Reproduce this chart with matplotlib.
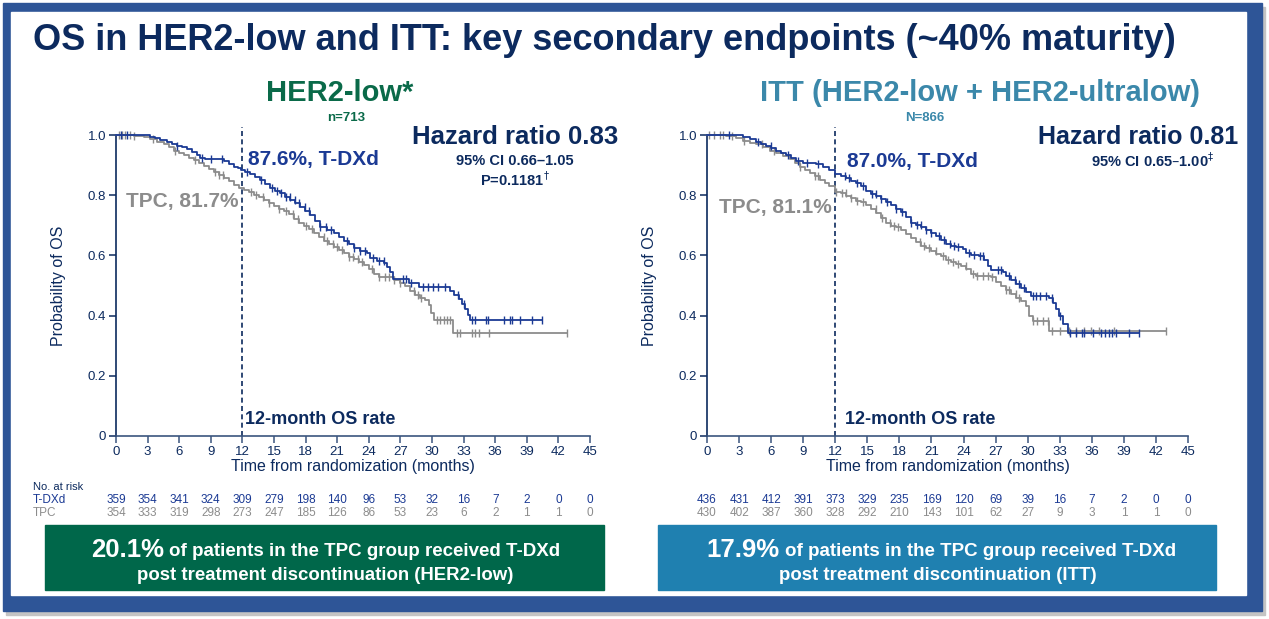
import numpy as np
import matplotlib
matplotlib.use("Agg")
import matplotlib.pyplot as plt
from matplotlib.patches import Rectangle
from matplotlib import transforms

plt.rcParams['font.family'] = ['Liberation Sans', 'DejaVu Sans']

# --- datos ---
months = [0, 3, 6, 9, 12, 15, 18, 21, 24, 27, 30, 33, 36, 39, 42, 45]
yticks = [0, 0.2, 0.4, 0.6, 0.8, 1.0]
ytick_labels = ['0', '0.2', '0.4', '0.6', '0.8', '1.0']

# HER2-low, T-DXd
low_tdxd_t = [0, 3.26, 3.73, 4.21, 4.84, 5.32, 5.79, 6.27, 6.74, 7.22, 7.69, 8.01, 8.48, 10.22, 10.70,
              11.17, 11.55, 11.90, 12.28, 12.75, 13.23, 13.70, 14.18, 14.65, 15.13, 15.60, 16.08,
              16.55, 17.03, 17.50, 17.97, 18.45, 18.92, 19.40, 20.03, 20.66, 21.14, 21.61, 22.09,
              22.56, 23.20, 23.83, 24.15, 24.78, 25.41, 25.73, 26.04, 26.30, 27.78, 28.73, 31.68,
              32.12, 32.53, 32.85, 33.16, 33.42, 33.64, 40.44]
low_tdxd_s = [1.0, 0.994, 0.989, 0.983, 0.977, 0.969, 0.963, 0.959, 0.952, 0.942, 0.932, 0.925, 0.919,
              0.913, 0.905, 0.895, 0.889, 0.884, 0.878, 0.870, 0.861, 0.850, 0.837, 0.825, 0.815,
              0.806, 0.795, 0.784, 0.773, 0.760, 0.748, 0.734, 0.714, 0.695, 0.684, 0.673, 0.662,
              0.649, 0.637, 0.623, 0.616, 0.607, 0.590, 0.583, 0.574, 0.563, 0.546, 0.521, 0.509,
              0.496, 0.483, 0.468, 0.455, 0.439, 0.421, 0.402, 0.385, 0.385]
# HER2-low, TPC
low_tpc_t = [0, 1.68, 2.63, 3.26, 3.89, 4.53, 5.00, 5.47, 5.95, 6.42, 6.90, 7.37, 7.85, 8.32, 8.80,
             9.27, 9.75, 10.22, 10.70, 11.17, 11.65, 12.12, 12.59, 13.07, 13.54, 14.02, 14.49, 14.97,
             15.44, 15.92, 16.39, 16.87, 17.34, 17.82, 18.29, 18.77, 19.24, 19.72, 20.19, 20.66,
             21.14, 21.61, 22.09, 22.56, 23.04, 23.51, 23.99, 24.46, 24.94, 26.36, 26.99, 27.47,
             27.94, 28.42, 28.89, 29.37, 29.68, 29.91, 30.16, 31.96, 42.82]
low_tpc_s = [1.0, 0.997, 0.992, 0.986, 0.978, 0.970, 0.959, 0.948, 0.939, 0.933, 0.925, 0.917, 0.908,
             0.897, 0.886, 0.877, 0.867, 0.858, 0.846, 0.835, 0.824, 0.817, 0.810, 0.802, 0.794,
             0.785, 0.774, 0.765, 0.755, 0.748, 0.737, 0.722, 0.709, 0.698, 0.689, 0.673, 0.660,
             0.649, 0.638, 0.629, 0.618, 0.607, 0.596, 0.587, 0.579, 0.568, 0.554, 0.538, 0.529,
             0.518, 0.509, 0.498, 0.483, 0.468, 0.457, 0.452, 0.435, 0.408, 0.385, 0.341, 0.341]
low_tdxd_cens = [0.5, 1.0, 5.8, 8.2, 9.0, 10.1, 12.4, 13.8, 14.8, 15.3, 15.7, 16.1, 16.5, 17.0, 17.4,
                 17.9, 18.3, 19.4, 19.9, 20.4, 21.9, 22.6, 23.2, 23.6, 24.4, 25.0, 25.4, 27.2, 27.5,
                 28.0, 29.1, 29.6, 30.1, 30.6, 31.2, 32.5, 33.0, 33.8, 34.1, 35.1, 35.3, 36.8, 37.4,
                 37.6, 38.4, 39.5, 40.4]
low_tpc_cens = [0.3, 0.6, 0.9, 1.3, 1.7, 3.5, 5.6, 7.5, 9.4, 9.8, 10.2, 12.8, 13.3, 14.0, 14.5, 15.5,
                16.1, 16.8, 17.3, 18.0, 18.6, 19.7, 20.0, 20.6, 21.0, 21.5, 22.1, 22.5, 23.0, 23.4,
                24.3, 25.0, 25.5, 25.9, 26.4, 27.0, 28.3, 28.7, 29.0, 30.5, 30.8, 31.1, 31.4, 31.7,
                32.4, 32.7, 33.8, 34.1, 34.5, 35.4, 42.8]
low_risk_tdxd = [359, 354, 341, 324, 309, 279, 198, 140, 96, 53, 32, 16, 7, 2, 0, 0]
low_risk_tpc = [354, 333, 319, 298, 273, 247, 185, 126, 86, 53, 23, 6, 2, 1, 1, 0]

# ITT, T-DXd
itt_tdxd_t = [0, 3.36, 3.99, 4.61, 5.08, 5.55, 6.01, 6.48, 6.95, 7.41, 7.88, 8.35, 8.97, 10.22, 10.84,
              11.46, 11.99, 12.55, 13.02, 13.49, 13.96, 14.42, 14.89, 15.36, 15.83, 16.29, 16.76,
              17.23, 17.69, 18.16, 18.63, 19.10, 19.56, 20.03, 20.50, 20.97, 21.43, 21.90, 22.37,
              22.83, 23.30, 23.93, 24.24, 24.70, 25.48, 25.95, 26.26, 26.57, 27.66, 27.98, 28.44,
              28.91, 29.38, 29.84, 30.31, 32.02, 32.34, 32.65, 32.96, 33.33, 33.74, 40.44]
itt_tdxd_s = [1.0, 0.994, 0.987, 0.978, 0.970, 0.964, 0.956, 0.948, 0.939, 0.933, 0.923, 0.912, 0.908,
              0.903, 0.895, 0.884, 0.872, 0.864, 0.856, 0.847, 0.840, 0.829, 0.815, 0.804, 0.796,
              0.787, 0.779, 0.768, 0.753, 0.743, 0.727, 0.709, 0.701, 0.694, 0.685, 0.674, 0.663,
              0.652, 0.639, 0.630, 0.627, 0.621, 0.608, 0.602, 0.599, 0.586, 0.564, 0.552, 0.544,
              0.530, 0.519, 0.506, 0.492, 0.477, 0.464, 0.459, 0.442, 0.422, 0.398, 0.373, 0.343,
              0.343]
# ITT, TPC
itt_tpc_t = [0, 1.81, 2.74, 3.36, 3.99, 4.61, 5.23, 5.86, 6.48, 7.10, 7.73, 8.19, 8.66, 9.13, 9.60,
             10.06, 10.53, 11.00, 11.46, 11.99, 12.55, 13.02, 13.49, 13.96, 14.42, 14.89, 15.36,
             15.83, 16.29, 16.76, 17.23, 17.69, 18.16, 18.63, 19.10, 19.56, 20.03, 20.50, 20.97,
             21.43, 21.90, 22.37, 22.83, 23.30, 23.77, 24.24, 24.70, 25.17, 26.57, 27.04, 27.51,
             27.98, 28.44, 28.91, 29.38, 29.84, 30.16, 30.47, 32.02, 42.93]
itt_tpc_s = [1.0, 0.997, 0.989, 0.981, 0.975, 0.969, 0.959, 0.947, 0.939, 0.931, 0.919, 0.908, 0.893,
             0.884, 0.873, 0.864, 0.851, 0.840, 0.829, 0.812, 0.807, 0.798, 0.790, 0.782, 0.776,
             0.768, 0.753, 0.740, 0.724, 0.707, 0.698, 0.694, 0.685, 0.672, 0.657, 0.643, 0.632,
             0.624, 0.613, 0.606, 0.597, 0.586, 0.577, 0.572, 0.564, 0.555, 0.539, 0.533, 0.528,
             0.510, 0.497, 0.484, 0.473, 0.459, 0.448, 0.431, 0.398, 0.381, 0.348, 0.348]
itt_tdxd_cens = [2.1, 4.8, 6.0, 7.6, 8.5, 9.4, 10.4, 12.9, 13.3, 14.0, 14.6, 15.4, 15.8, 16.3, 16.8,
                 17.7, 18.2, 19.1, 19.6, 20.0, 20.5, 21.0, 21.7, 22.2, 22.7, 23.1, 23.5, 24.5, 25.0,
                 25.5, 25.8, 27.2, 27.5, 28.3, 28.8, 29.2, 29.7, 30.5, 30.8, 31.2, 31.7, 32.3, 33.0,
                 34.0, 34.5, 35.1, 35.3, 36.1, 36.9, 37.2, 37.6, 37.9, 38.3, 39.5, 40.4]
itt_tpc_cens = [0.2, 0.7, 1.2, 1.5, 2.3, 3.5, 5.1, 6.3, 8.7, 10.1, 10.4, 12.1, 12.6, 13.0, 13.5, 14.0,
                14.6, 15.8, 16.4, 17.1, 17.5, 17.9, 19.9, 20.3, 20.8, 21.4, 22.1, 22.5, 23.0, 23.5,
                24.2, 24.9, 25.3, 25.8, 26.3, 26.7, 28.0, 28.3, 28.9, 29.2, 30.5, 30.9, 31.4, 31.9,
                32.3, 33.0, 33.9, 34.5, 35.3, 35.9, 36.7, 38.1, 42.9]
itt_risk_tdxd = [436, 431, 412, 391, 373, 329, 235, 169, 120, 69, 39, 16, 7, 2, 0, 0]
itt_risk_tpc = [430, 402, 387, 360, 328, 292, 210, 143, 101, 62, 27, 9, 3, 1, 1, 0]

# --- colores ---
NAVY = '#0c2a5e'
BLUE = '#1b3a94'
GRAY = '#8c8c8c'
GREEN = '#0a6a49'
TEAL = '#3b88aa'
FRAME = '#2e5597'

W, H = 1269, 619
fig = plt.figure(figsize=(W / 100, H / 100), dpi=100)

# capa de fondo en coordenadas de píxel
bg = fig.add_axes([0, 0, 1, 1])
bg.set_xlim(0, W)
bg.set_ylim(H, 0)
bg.axis('off')
bg.add_patch(Rectangle((6, 7), 1259, 608, color='#c4c4c4', zorder=0))
bg.add_patch(Rectangle((3, 3), 1259, 608, color=FRAME, zorder=1))
bg.add_patch(Rectangle((11, 12), 1235, 583, color='white', zorder=2))

bg.text(33, 40, 'OS in HER2-low and ITT: key secondary endpoints (~40% maturity)',
        fontsize=26, fontweight='bold', color=NAVY, va='center', ha='left', zorder=5)


def km_panel(rect, t_tdxd, s_tdxd, c_tdxd, t_tpc, s_tpc, c_tpc):
    ax = fig.add_axes([rect[0] / W, 1 - rect[3] / H, (rect[2] - rect[0]) / W, (rect[3] - rect[1]) / H])
    ax.set_facecolor('none')
    for t, s, c, col in [(t_tpc, s_tpc, c_tpc, GRAY), (t_tdxd, s_tdxd, c_tdxd, BLUE)]:
        t = np.array(t)
        s = np.array(s)
        ax.step(t, s, where='post', color=col, lw=1.3, clip_on=False, zorder=3)
        idx = np.searchsorted(t, c, side='right') - 1
        ax.plot(c, s[idx], ls='none', marker='|', ms=6, mew=1.0, color=col, clip_on=False, zorder=3)
    ax.plot([12, 12], [0, 1.027], ls='--', lw=1.2, color=NAVY, clip_on=False, dashes=(3, 2))
    ax.set_xlim(0, 45)
    ax.set_ylim(0, 1.0)
    ax.set_xticks(months)
    ax.set_yticks(yticks)
    ax.set_yticklabels(ytick_labels)
    for side in ['top', 'right']:
        ax.spines[side].set_visible(False)
    ax.spines['left'].set_color(NAVY)
    ax.spines['bottom'].set_color('#3b557e')
    ax.spines['left'].set_linewidth(1.2)
    ax.spines['bottom'].set_linewidth(1.2)
    ax.tick_params(colors=NAVY, labelsize=9.5, length=5, width=1.1, pad=2)
    ax.tick_params(axis='x', colors='#3b557e', labelcolor=NAVY)
    ax.set_ylabel('Probability of OS', fontsize=11.5, color=NAVY, labelpad=16)
    ax.set_xlabel('Time from randomization (months)', fontsize=11.5, color=NAVY, labelpad=1)
    return ax


axL = km_panel((116, 135, 590, 436), low_tdxd_t, low_tdxd_s, low_tdxd_cens,
               low_tpc_t, low_tpc_s, low_tpc_cens)
axR = km_panel((707, 135, 1188, 436), itt_tdxd_t, itt_tdxd_s, itt_tdxd_cens,
               itt_tpc_t, itt_tpc_s, itt_tpc_cens)

# títulos de panel
bg.text(340, 93, 'HER2-low*', fontsize=21, fontweight='bold', color=GREEN, ha='center', va='center', zorder=5)
bg.text(346, 118, 'n=713', fontsize=9.5, fontweight='bold', color=GREEN, ha='center', va='center', zorder=5)
bg.text(980, 93, 'ITT (HER2-low + HER2-ultralow)', fontsize=21, fontweight='bold', color=TEAL,
        ha='center', va='center', zorder=5)
bg.text(925, 118, 'N=866', fontsize=9.5, fontweight='bold', color=TEAL, ha='center', va='center', zorder=5)

# textos del panel izquierdo
bg.text(515, 137, 'Hazard ratio 0.83', fontsize=18.5, fontweight='bold', color=NAVY, ha='center', va='center', zorder=5)
bg.text(515, 161, '95% CI 0.66\u20131.05', fontsize=10.5, fontweight='bold', color=NAVY, ha='center', va='center', zorder=5)
bg.text(515, 180, 'P=0.1181$^{\u2020}$', fontsize=10.5, fontweight='bold', color=NAVY, ha='center', va='center', zorder=5)
bg.text(248, 160, '87.6%, T-DXd', fontsize=15, fontweight='bold', color=BLUE, ha='left', va='center', zorder=5)
bg.text(238, 202, 'TPC, 81.7%', fontsize=15, fontweight='bold', color=GRAY, ha='right', va='center', zorder=5)
bg.text(245, 420, '12-month OS rate', fontsize=13, fontweight='bold', color=NAVY, ha='left', va='center', zorder=5)

# textos del panel derecho
bg.text(1138, 137, 'Hazard ratio 0.81', fontsize=18, fontweight='bold', color=NAVY, ha='center', va='center', zorder=5)
bg.text(1153, 161, '95% CI 0.65\u20131.00$^{\u2021}$', fontsize=10.5, fontweight='bold', color=NAVY, ha='center', va='center', zorder=5)
bg.text(847, 161, '87.0%, T-DXd', fontsize=15, fontweight='bold', color=BLUE, ha='left', va='center', zorder=5)
bg.text(832, 207, 'TPC, 81.1%', fontsize=15, fontweight='bold', color=GRAY, ha='right', va='center', zorder=5)
bg.text(845, 420, '12-month OS rate', fontsize=13, fontweight='bold', color=NAVY, ha='left', va='center', zorder=5)

# tabla de pacientes en riesgo
bg.text(33, 487, 'No. at risk', fontsize=8, color=NAVY, ha='left', va='center', zorder=5)
bg.text(33, 500, 'T-DXd', fontsize=8.5, color=BLUE, ha='left', va='center', zorder=5)
bg.text(33, 513, 'TPC', fontsize=8.5, color=GRAY, ha='left', va='center', zorder=5)
for ax, r1, r2 in [(axL, low_risk_tdxd, low_risk_tpc), (axR, itt_risk_tdxd, itt_risk_tpc)]:
    tr = transforms.blended_transform_factory(ax.transData, bg.transData)
    for m, a, b in zip(months, r1, r2):
        bg.text(m, 500, str(a), transform=tr, fontsize=8.5, color=BLUE, ha='center', va='center', zorder=5)
        bg.text(m, 513, str(b), transform=tr, fontsize=8.5, color=GRAY, ha='center', va='center', zorder=5)

# cajas inferiores
boxes = [(45, 604, '#00674a', '20.1%', '(HER2-low)', 164), (658, 1216, '#1f80b0', '17.9%', '(ITT)', 780)]
for x0, x1, col, pct, tag, xs in boxes:
    bg.add_patch(Rectangle((x0, 525), x1 - x0, 65, color=col, zorder=4))
    xc = (x0 + x1) / 2
    bg.text(xs, 550, pct, fontsize=18.5, fontweight='bold', color='white',
            ha='right', va='center', zorder=5)
    bg.text(xs + 5, 551, 'of patients in the TPC group received T-DXd', fontsize=13.5, fontweight='bold',
            color='white', ha='left', va='center', zorder=5)
    bg.text(xc + 1, 575, 'post treatment discontinuation ' + tag, fontsize=13.4, fontweight='bold',
            color='white', ha='center', va='center', zorder=5)

fig.savefig('out.png', dpi=100)
